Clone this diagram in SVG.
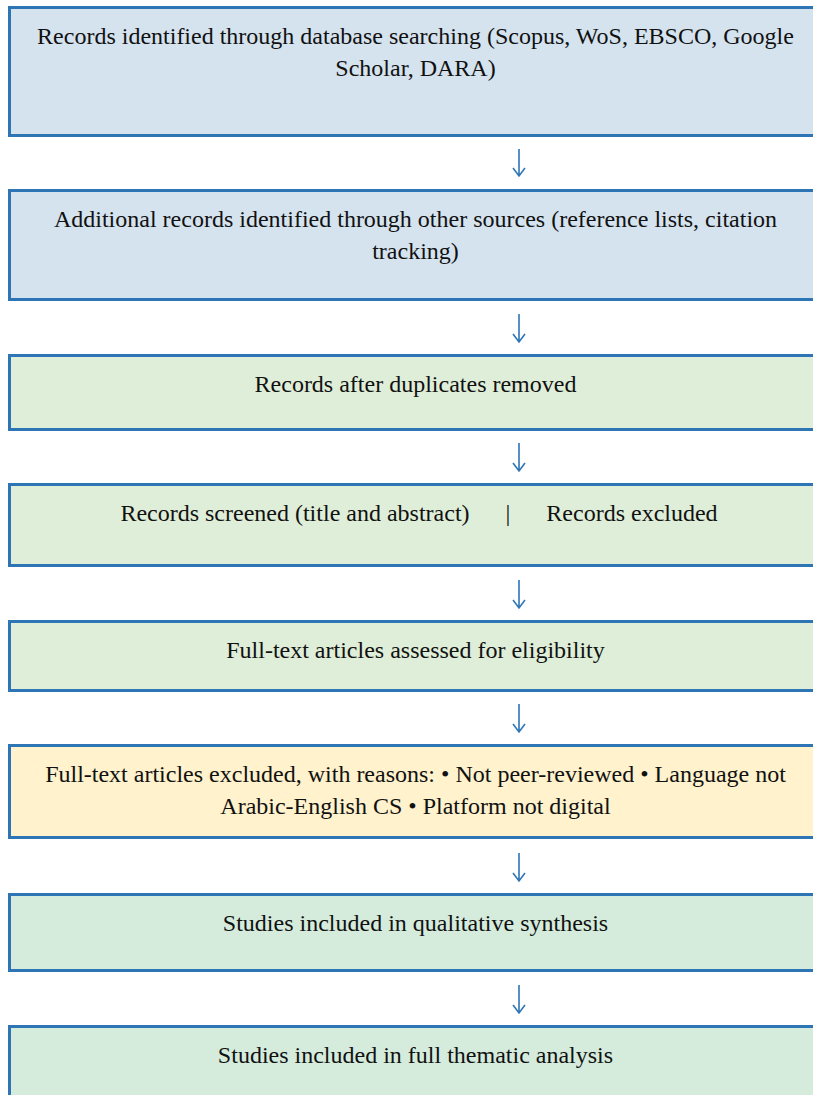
<svg xmlns="http://www.w3.org/2000/svg" width="813" height="1095" viewBox="0 0 813 1095">
<style>
.box{stroke:#2e75b6;stroke-width:3}
.blue{fill:#d5e3ef}
.green{fill:#dfeed8}
.yellow{fill:#fff2cc}
.mint{fill:#d5ecdd}
.t{font-family:"Liberation Serif","Times New Roman",serif;font-size:24px;fill:#111;text-anchor:middle;white-space:pre}
.arr{stroke:#2e75b6;stroke-width:1.6;fill:none}
</style>
<rect width="813" height="1095" fill="#ffffff"/>
<g id="n1"><rect class="box blue" x="9.5" y="7.5" width="812" height="128"/>
<text class="t" x="415.5" y="44">Records identified through database searching (Scopus, WoS, EBSCO, Google</text>
<text class="t" x="415.5" y="76">Scholar, DARA)</text></g>
<g id="n2"><rect class="box blue" x="9.5" y="190.5" width="812" height="109"/>
<text class="t" x="415.5" y="227">Additional records identified through other sources (reference lists, citation</text>
<text class="t" x="415.5" y="259">tracking)</text></g>
<g id="n3"><rect class="box green" x="9.5" y="355.5" width="812" height="74"/>
<text class="t" x="415.5" y="392">Records after duplicates removed</text></g>
<g id="n4"><rect class="box green" x="9.5" y="484.5" width="812" height="81"/>
<text class="t" x="419" y="521">Records screened (title and abstract)      |      Records excluded</text></g>
<g id="n5"><rect class="box green" x="9.5" y="621.5" width="812" height="69"/>
<text class="t" x="415.5" y="658">Full-text articles assessed for eligibility</text></g>
<g id="n6"><rect class="box yellow" x="9.5" y="745.5" width="812" height="92"/>
<text class="t" x="415.5" y="782">Full-text articles excluded, with reasons: • Not peer-reviewed • Language not</text>
<text class="t" x="415.5" y="814">Arabic-English CS • Platform not digital</text></g>
<g id="n7"><rect class="box mint" x="9.5" y="894.5" width="812" height="76"/>
<text class="t" x="415.5" y="931">Studies included in qualitative synthesis</text></g>
<g id="n8"><rect class="box mint" x="9.5" y="1026.5" width="812" height="80"/>
<text class="t" x="415.5" y="1063">Studies included in full thematic analysis</text></g>
<g id="connectors">
<path class="arr" d="M519 149V176M513 168L519 176L525 168"/>
<path class="arr" d="M519 314V342M513 334L519 342L525 334"/>
<path class="arr" d="M519 443V471M513 463L519 471L525 463"/>
<path class="arr" d="M519 580V608M513 600L519 608L525 600"/>
<path class="arr" d="M519 704V732M513 724L519 732L525 724"/>
<path class="arr" d="M519 853V881M513 873L519 881L525 873"/>
<path class="arr" d="M519 985V1013M513 1005L519 1013L525 1005"/>
</g>
</svg>
